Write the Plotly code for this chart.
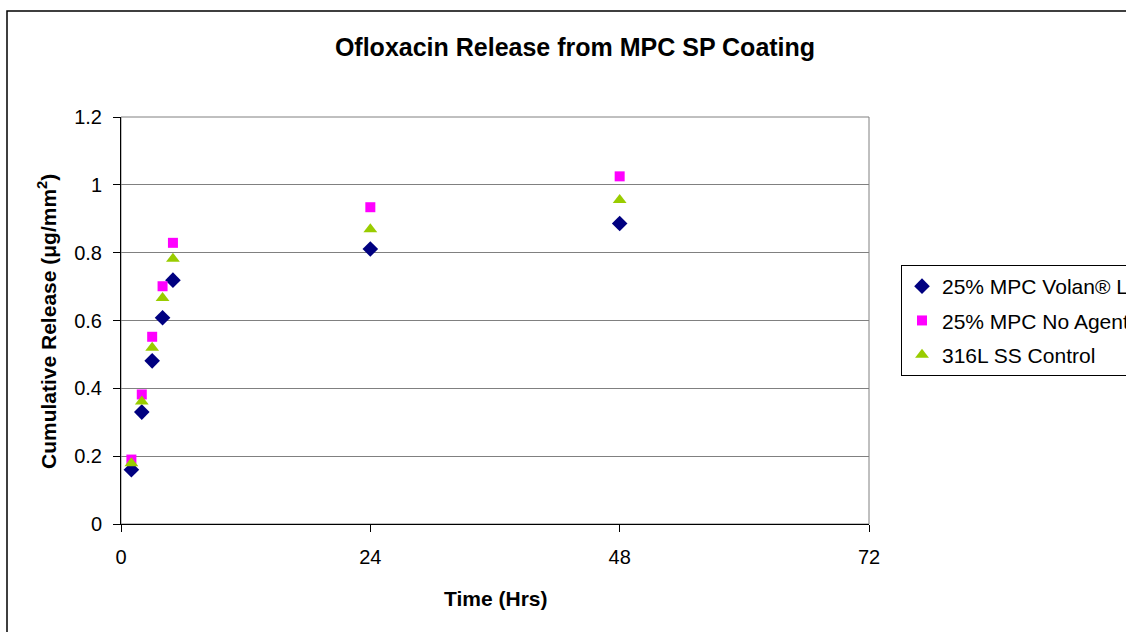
import plotly.graph_objects as go

# Sampling times (hours)
hours = [1, 2, 3, 4, 5, 24, 48]

# Cumulative ofloxacin release (ug/mm^2) per coating
volan = [0.160, 0.330, 0.481, 0.608, 0.719, 0.811, 0.886]
no_agent = [0.190, 0.382, 0.552, 0.701, 0.829, 0.934, 1.025]
ss_control = [0.179, 0.361, 0.520, 0.666, 0.782, 0.869, 0.955]

series_names = ["25% MPC Volan® L", "25% MPC No Agent", "316L SS Control"]
x_ticks = [0, 24, 48, 72]
y_ticks = [0, 0.2, 0.4, 0.6, 0.8, 1, 1.2]
y_tick_text = ["0", "0.2", "0.4", "0.6", "0.8", "1", "1.2"]

W, H = 1126, 632
ML, MR, MT, MB = 121, 257, 117, 108
PW, PH = W - ML - MR, H - MT - MB
FONT = "Liberation Sans, Arial, sans-serif"


def px_x(p):
    return (p - ML) / PW


def px_y(p):
    return (H - MB - p) / PH


fig = go.Figure()
styles = [
    dict(symbol="diamond", color="#000080", size=12),
    dict(symbol="square", color="#FF00FF", size=10),
    dict(symbol="triangle-up", color="#99CC00", size=12),
]
for i, (name, vals, st) in enumerate(zip(series_names, [volan, no_agent, ss_control], styles)):
    fig.add_trace(go.Scatter(
        x=hours, y=vals, mode="markers", name=name, legendgroup=f"g{i}",
        marker=dict(symbol=st["symbol"], color=st["color"], size=st["size"], line=dict(width=0)),
        cliponaxis=False,
    ))

fig.update_layout(
    width=W, height=H,
    margin=dict(l=ML, r=MR, t=MT, b=MB, autoexpand=False),
    paper_bgcolor="white", plot_bgcolor="white",
    font=dict(family=FONT, color="black", size=20),
    title=dict(text="<b>Ofloxacin Release from MPC SP Coating</b>",
               font=dict(size=25, family=FONT, color="black"),
               x=575 / W, xanchor="center", xref="container",
               y=1 - 47 / H, yanchor="middle", yref="container"),
    xaxis=dict(range=[0, 72], tickvals=x_ticks, ticktext=[str(v) for v in x_ticks],
               showgrid=False, zeroline=False, showline=True, linecolor="black", linewidth=1,
               ticks="outside", ticklen=7, tickcolor="black", tickfont=dict(size=20),
               ticklabelstandoff=8),
    yaxis=dict(range=[0, 1.2], tickvals=y_ticks, ticktext=y_tick_text,
               showgrid=True, gridcolor="#808080", gridwidth=1, zeroline=False,
               showline=True, linecolor="black", linewidth=1,
               ticks="outside", ticklen=7, tickcolor="black", tickfont=dict(size=20),
               ticklabelstandoff=7),
    legend=dict(x=px_x(901), xanchor="left", y=px_y(265), yanchor="top",
                bordercolor="black", borderwidth=1, bgcolor="white",
                font=dict(size=21, family=FONT), traceorder="grouped", tracegroupgap=4,
                itemsizing="trace"),
    showlegend=True,
)

# plot-area frame (grey) and outer chart border
fig.add_shape(type="rect", xref="paper", yref="paper", x0=0, x1=1, y0=0, y1=1,
              line=dict(color="#808080", width=1), layer="below")
fig.add_shape(type="rect", xref="paper", yref="paper",
              x0=px_x(7), x1=px_x(W + 300), y0=px_y(H + 300), y1=px_y(11),
              line=dict(color="black", width=1.5), layer="below")

# axis titles
fig.add_annotation(text="<b>Cumulative Release (μg/mm<sup>2</sup>)</b>", textangle=-90,
                   xref="paper", yref="paper", x=px_x(47), y=px_y(322),
                   xanchor="center", yanchor="middle", showarrow=False,
                   font=dict(size=21, family=FONT))
fig.add_annotation(text="<b>Time (Hrs)</b>", xref="paper", yref="paper",
                   x=px_x(495), y=px_y(598), xanchor="center", yanchor="middle",
                   showarrow=False, font=dict(size=21, family=FONT))

fig.write_html("out.html")
